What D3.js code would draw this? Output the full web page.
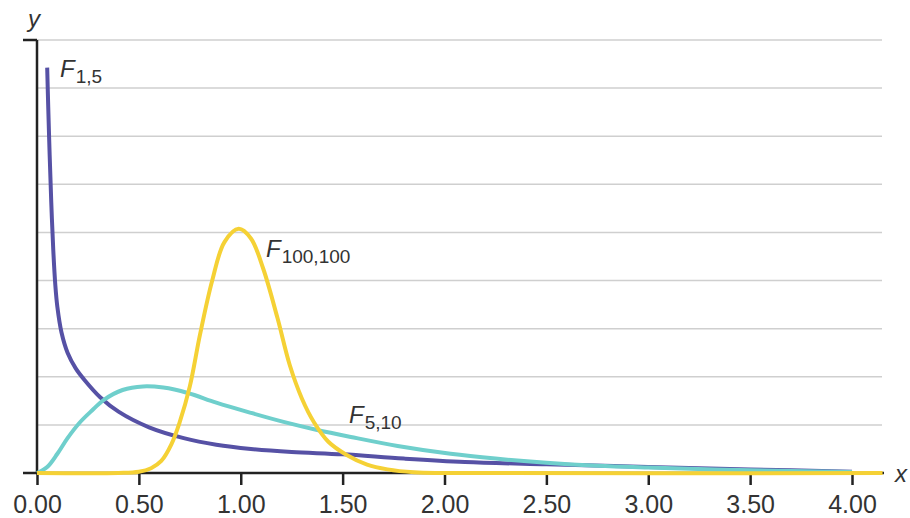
<!DOCTYPE html>
<html>
<head>
<meta charset="utf-8">
<script src="https://cdn.jsdelivr.net/npm/d3@7"></script>
<style>
  html, body { margin: 0; padding: 0; background: #fff; }
  svg { display: block; }
  text { font-family: "Liberation Sans", Arial, sans-serif; fill: #333; }
</style>
</head>
<body>
<svg id="chart" width="910" height="518"></svg>
<script>
// ---- Data ----
const xTicks = [0, 0.5, 1.0, 1.5, 2.0, 2.5, 3.0, 3.5, 4.0];
const yGrid = [0.4, 0.8, 1.2, 1.6, 2.0, 2.4, 2.8, 3.2, 3.6];

const f15X = [0.05, 0.055, 0.062, 0.07, 0.08, 0.09, 0.10, 0.12, 0.15, 0.19, 0.23, 0.31, 0.40, 0.55, 0.72, 0.88, 1.05, 1.25, 1.50, 1.80, 2.10, 2.50, 3.00, 3.50, 4.00];
const f15Y = [3.37, 3.05, 2.65, 2.25, 1.85, 1.56, 1.38, 1.17, 1.00, 0.87, 0.78, 0.63, 0.51, 0.38, 0.29, 0.235, 0.20, 0.175, 0.155, 0.12, 0.092, 0.072, 0.05, 0.03, 0.01];

const f510X = [0.00, 0.05, 0.10, 0.15, 0.21, 0.27, 0.33, 0.42, 0.52, 0.62, 0.74, 0.88, 1.05, 1.21, 1.37, 1.54, 1.77, 2.03, 2.25, 2.50, 2.75, 3.00, 3.50, 4.00];
const f510Y = [0.00, 0.05, 0.16, 0.29, 0.42, 0.52, 0.61, 0.69, 0.72, 0.71, 0.665, 0.585, 0.50, 0.425, 0.36, 0.30, 0.225, 0.16, 0.12, 0.085, 0.06, 0.045, 0.022, 0.008];

const f100X = [0.00, 0.40, 0.50, 0.56, 0.61, 0.66, 0.70, 0.75, 0.80, 0.86, 0.92, 0.99, 1.05, 1.11, 1.18, 1.24, 1.30, 1.36, 1.43, 1.52, 1.62, 1.72, 1.85, 2.00, 4.15];
const f100Y = [0.00, 0.00, 0.01, 0.04, 0.10, 0.24, 0.42, 0.72, 1.15, 1.60, 1.92, 2.03, 1.95, 1.70, 1.29, 0.90, 0.62, 0.42, 0.26, 0.15, 0.07, 0.03, 0.006, 0.00, 0.00];

const seriesNames = ["F", "F", "F"];
const seriesSubs = ["1,5", "100,100", "5,10"];

// ---- Layout ----
const svg = d3.select("#chart");
const x = d3.scaleLinear().domain([0, 4]).range([37, 852]);
const y = d3.scaleLinear().domain([0, 3.6]).range([473, 40]);

// gridlines
svg.append("g").selectAll("line").data(yGrid).join("line")
  .attr("x1", x(0)).attr("x2", 882)
  .attr("y1", d => y(d)).attr("y2", d => y(d))
  .attr("stroke", "#cfcfcf").attr("stroke-width", 1.5);

// x axis
const xAxis = d3.axisBottom(x).tickValues(xTicks).tickFormat(d3.format(".2f")).tickSize(12).tickPadding(10);
const gx = svg.append("g").attr("transform", `translate(0,${y(0)})`).call(xAxis);
gx.select(".domain").remove();
gx.selectAll(".tick line").attr("stroke", "#222").attr("stroke-width", 2.5);
gx.selectAll(".tick text").attr("font-size", 25).attr("fill", "#333")
  .attr("font-family", "Liberation Sans, Arial, sans-serif").attr("dy", "0.72em");

// axis lines
svg.append("line").attr("x1", 23).attr("x2", 884).attr("y1", y(0)).attr("y2", y(0))
  .attr("stroke", "#222").attr("stroke-width", 2.5);
svg.append("line").attr("x1", x(0)).attr("x2", x(0)).attr("y1", y(3.6)).attr("y2", y(0))
  .attr("stroke", "#222").attr("stroke-width", 2.5);
svg.append("line").attr("x1", 23).attr("x2", x(0)).attr("y1", y(3.6)).attr("y2", y(3.6))
  .attr("stroke", "#222").attr("stroke-width", 2.5);

// axis titles
svg.append("text").attr("x", 28).attr("y", 27).attr("font-size", 24).attr("font-style", "italic").text("y");
svg.append("text").attr("x", 895).attr("y", 482).attr("font-size", 24).attr("font-style", "italic").text("x");

// curves
const line = d3.line().x(d => x(d[0])).y(d => y(d[1])).curve(d3.curveCatmullRom.alpha(0.5));
const curves = [
  { xs: f15X, ys: f15Y, color: "#5651a5" },
  { xs: f510X, ys: f510Y, color: "#6fcfcc" },
  { xs: f100X, ys: f100Y, color: "#f5d135" }
];
curves.forEach(c => {
  svg.append("path").datum(d3.zip(c.xs, c.ys))
    .attr("d", line).attr("fill", "none")
    .attr("stroke", c.color).attr("stroke-width", 4)
    .attr("stroke-linejoin", "round").attr("stroke-linecap", "butt");
});

// curve labels
const labelPos = [[60, 77], [266, 257], [349, 423]];
labelPos.forEach((p, i) => {
  const t = svg.append("text").attr("x", p[0]).attr("y", p[1]).attr("font-size", 24);
  t.append("tspan").attr("font-style", "italic").text(seriesNames[i]);
  t.append("tspan").attr("font-size", 19).attr("dy", 6).attr("dx", 1).text(seriesSubs[i]);
});
</script>
</body>
</html>
